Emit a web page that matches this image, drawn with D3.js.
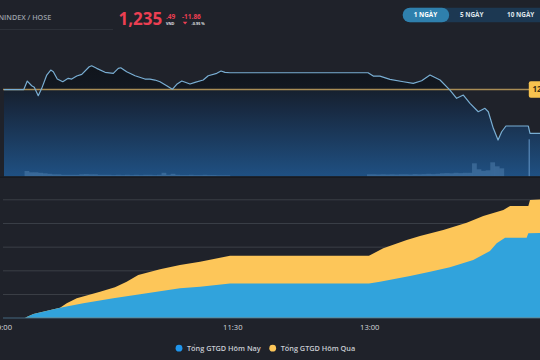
<!DOCTYPE html>
<html><head><meta charset="utf-8">
<script src="https://cdn.jsdelivr.net/npm/d3@7"></script>
<style>
html,body{margin:0;padding:0;background:#1f222a;overflow:hidden}
svg{display:block}
text{font-family:"Open Sans","Noto Sans",sans-serif}
</style></head><body>
<script>
// ---- data (times in minutes after 09:00) ----
const refPrice = 1247.35;
const lastPrice = [1235, 49];
const change = "-11.86", changePct = "-0.95 %";
const periods = ["1 NGÀY", "5 NGÀY", "10 NGÀY"];
const timeTicks = [0, 150, 240];
const timeLabels = ["9:00", "11:30", "13:00"];
const gridTicks = [5000, 10000, 15000, 20000, 25000];
const seriesNames = ["Tổng GTGD Hôm Nay", "Tổng GTGD Hôm Qua"];

const priceTime = [0,13,15.3,18.2,19.9,22.5,24.8,28.1,30.7,32.4,35.0,38.6,42.2,44.5,47.8,51.1,56.0,57.6,60.9,66.4,71.8,75.1,76.7,80.6,86.1,92.6,95.9,99.2,102.5,106.9,110.6,113.5,116.8,122.2,125.5,130.9,134.2,139.8,142.6,145.2,148.5,239.2,242.6,247.0,253.6,262.4,268.9,274.4,279.9,286.5,293.0,297.4,301.8,306.2,311.6,316.0,318.2,321.5,324.6,327.0,329.8,344.5,345.6,352.2];
const priceValue = [1247.35,1247.35,1249.65,1248.38,1247.95,1245.67,1247.67,1251.28,1252.63,1252.17,1250.19,1249.46,1250.38,1250.19,1251.00,1251.47,1253.52,1253.79,1253.09,1252.01,1251.74,1253.09,1253.25,1252.17,1251.09,1250.19,1250.19,1249.92,1249.46,1248.38,1247.40,1248.76,1249.65,1248.84,1249.30,1249.92,1251.09,1251.74,1252.36,1252.01,1251.90,1251.90,1251.00,1251.00,1250.11,1249.46,1249.03,1249.73,1251.28,1249.92,1247.21,1244.97,1245.86,1243.61,1241.34,1242.26,1241.34,1236.84,1233.67,1235.92,1237.47,1237.47,1235.49,1235.49];

const volMorningStart = 15, volAfternoonStart = 240, volStep = 3;
const volMorning = [5.3,4,4,3.5,3,2.5,2,2,1.5,1.5,1.5,1.5,2,2.2,2,2,1.5,1.5,1.5,1.2,1.5,1.2,1.5,1.2,1.5,1.2,1.5,1.5,1.2,1.5,3.5,1.5,2.5,1.5,1.2,1.2,1.5,1.2,1.2,1.5,1.2,1.2,1,1,1];
const volAfternoon = [2,2,1.8,2,1.8,2,1.8,2,2,1.8,2.2,2,2.2,2.5,2.2,2.5,3,3.2,3,3.5,3.2,3.5,3.5,13,7,5.5,6,14,10,8];
const volATC = {t: 345.1, v: 37};

const todayTime = [0,13.8,19.3,36.8,52.1,71.8,89.4,115.6,128.8,148.5,239.8,247.0,266.8,279.9,293.0,308.3,319.3,323.7,329.2,343.4,344.5,352.2];
const todayValue = [0,0,781,2111,3041,4096,4941,6208,6546,7230,7230,7601,8805,9713,10642,12183,14084,15709,16892,16892,17821,17900];
const yestTime = [0,13.8,19.3,36.8,41.2,47.8,63.1,72.9,80.6,88.2,102.5,115.6,128.8,148.5,239.8,249.2,264.6,273.3,288.6,304.0,314.9,328.1,332.5,344.5,345.6,352.2];
const yestValue = [0,0,781,2111,3041,4096,5490,6419,7601,9016,10220,11127,11824,13091,13091,14654,16406,17250,18517,20059,21473,22740,23585,23585,24852,24958];

// ---- setup ----
const W = 540, H = 360;
const svg = d3.select("body").append("svg").attr("width", W).attr("height", H);
const defs = svg.append("defs");
defs.append("clipPath").attr("id","clipTop").append("rect").attr("x",3).attr("y",40).attr("width",537).attr("height",136.5);
defs.append("clipPath").attr("id","clipBot").append("rect").attr("x",3).attr("y",180).attr("width",537).attr("height",138);

const x = d3.scaleLinear().domain([0, 360]).range([4, 4 + 360 * 1.522]);
const yP = d3.scaleLinear().domain([1230, 1257]).range([153.6, 53.9]);
const yV = d3.scaleLinear().domain([0, 40]).range([176.3, 136.3]);
const yT = d3.scaleLinear().domain([0, 25000]).range([317.7, 199.3]);

// ---- header ----
svg.append("text").attr("x", -6).attr("y", 19.5).attr("fill", "#9aa0a9").attr("font-size", 7.2).attr("font-weight", 600).text("VNINDEX / HOSE");
svg.append("line").attr("x1", 0).attr("x2", 113).attr("y1", 29.5).attr("y2", 29.5).attr("stroke", "#2d3139").attr("stroke-width", 1);
const red = "#ec3f52";
svg.append("text").attr("x", 118.5).attr("y", 24.5).attr("fill", red).attr("font-size", 17).attr("font-weight", 700).text(d3.format(",")(lastPrice[0]));
svg.append("text").attr("x", 166).attr("y", 18.5).attr("fill", red).attr("font-size", 6.5).attr("font-weight", 700).text("." + lastPrice[1]);
svg.append("text").attr("x", 166).attr("y", 24.5).attr("fill", "#e0e3e8").attr("font-size", 3.8).attr("font-weight", 700).text("VND");
svg.append("text").attr("x", 182).attr("y", 18.5).attr("fill", red).attr("font-size", 6.5).attr("font-weight", 700).text(change);
svg.append("path").attr("d", "M182.8,21.8 L187.4,21.8 L185.1,24.4 Z").attr("fill", red);
svg.append("text").attr("x", 191.5).attr("y", 24.5).attr("fill", "#e0e3e8").attr("font-size", 3.8).attr("font-weight", 700).text(changePct);

// period buttons
svg.append("rect").attr("x", 402.7).attr("y", 7.7).attr("width", 150).attr("height", 14.6).attr("rx", 7.3).attr("fill", "#1c3852");
svg.append("rect").attr("x", 402.7).attr("y", 7.7).attr("width", 46.5).attr("height", 14.6).attr("rx", 7.3).attr("fill", "#2f80ad");
svg.selectAll("text.btn").data(periods).join("text").attr("class", "btn")
  .attr("x", (d, i) => [425.5, 471.7, 520.7][i]).attr("y", 17.4)
  .attr("text-anchor", "middle").attr("font-size", 6.4).attr("font-weight", 700)
  .attr("fill", (d, i) => i === 0 ? "#ffffff" : "#dfe5ea").text(d => d);

// ---- upper price chart ----
const grad = defs.append("linearGradient").attr("id", "pg").attr("gradientUnits", "userSpaceOnUse")
  .attr("x1", 0).attr("x2", 0).attr("y1", 55).attr("y2", 176);
const refOff = (yP(refPrice) - 55) / (176 - 55);
[[0, "#0f1319"], [refOff - 0.002, "#121821"], [refOff + 0.002, "#16202e"], [0.45, "#182a42"], [1, "#1f5082"]]
  .forEach(s => grad.append("stop").attr("offset", s[0]).attr("stop-color", s[1]));

const gTop = svg.append("g").attr("clip-path", "url(#clipTop)");
const pts = priceTime.map((t, i) => ({t, v: priceValue[i]}));
gTop.append("path").datum(pts).attr("fill", "url(#pg)")
  .attr("d", d3.area().x(d => x(d.t)).y0(176.5).y1(d => yP(d.v)));

// volume bars
const vols = volMorning.map((v, i) => ({t: volMorningStart + i * volStep, v}))
  .concat(volAfternoon.map((v, i) => ({t: volAfternoonStart + i * volStep, v})));
const bw = x(volStep) - x(0);
gTop.selectAll("rect.vol").data(vols).join("rect").attr("class", "vol")
  .attr("x", d => x(d.t) - bw / 2).attr("width", bw + 0.2)
  .attr("y", d => yV(d.v)).attr("height", d => yV(0) - yV(d.v))
  .attr("fill", "#5282b0").attr("opacity", 0.5);
gTop.append("rect").attr("x", x(volATC.t) - 0.7).attr("width", 1.4)
  .attr("y", yV(volATC.v)).attr("height", yV(0) - yV(volATC.v)).attr("fill", "#5d8fbf").attr("opacity", 0.8);

// reference line
gTop.append("line").attr("x1", 3).attr("x2", 540).attr("y1", yP(refPrice)).attr("y2", yP(refPrice))
  .attr("stroke", "#a98d55").attr("stroke-width", 1.6);
// price line
gTop.append("path").datum(pts).attr("fill", "none").attr("stroke", "#79aed3").attr("stroke-width", 1.2)
  .attr("stroke-linejoin", "round")
  .attr("d", d3.line().x(d => x(d.t)).y(d => yP(d.v)));
// ref label
svg.append("rect").attr("x", 528.8).attr("y", yP(refPrice) - 8.3).attr("width", 40).attr("height", 16.6).attr("rx", 2).attr("fill", "#f7c34f");
svg.append("text").attr("x", 532.5).attr("y", yP(refPrice) + 2.8).attr("font-size", 8).attr("font-weight", 700).attr("fill", "#3a2f14").text(d3.format(".2f")(refPrice));
svg.append("line").attr("x1", 0).attr("x2", 540).attr("y1", 177.2).attr("y2", 177.2).attr("stroke", "#171a20").attr("stroke-width", 1.5);

// ---- lower cumulative value chart ----
svg.append("g").attr("transform", "translate(3,0)")
  .call(d3.axisLeft(yT).tickValues(gridTicks).tickSize(-537).tickFormat(""))
  .call(g => g.select(".domain").remove())
  .call(g => g.selectAll("line").attr("stroke", "#3b3f47").attr("stroke-width", 1));

const gBot = svg.append("g").attr("clip-path", "url(#clipBot)");
const yestPts = yestTime.map((t, i) => ({t, v: yestValue[i]}));
const todayPts = todayTime.map((t, i) => ({t, v: todayValue[i]}));
const areaT = d3.area().x(d => x(d.t)).y0(yT(0)).y1(d => yT(d.v));
gBot.append("path").datum(yestPts).attr("fill", "#fdc659").attr("d", areaT);
gBot.append("path").datum(todayPts).attr("fill", "#31a3dc").attr("d", areaT);
svg.append("line").attr("x1", 3).attr("x2", 540).attr("y1", yT(0) + 0.3).attr("y2", yT(0) + 0.3).attr("stroke", "#4f7895").attr("stroke-width", 0.8);

svg.append("g").attr("transform", `translate(0,${yT(0)})`)
  .call(d3.axisBottom(x).tickValues(timeTicks).tickSize(0).tickPadding(7).tickFormat((d, i) => timeLabels[i]))
  .call(g => g.select(".domain").remove())
  .call(g => g.selectAll("text").attr("fill", "#d6d8dc").attr("font-size", 7.6).attr("font-family", "Liberation Sans, Arial, sans-serif"));

// legend
const legColors = ["#1f95ec", "#fdc659"];
const legX = [179, 272.7];
seriesNames.forEach((n, i) => {
  svg.append("circle").attr("cx", legX[i]).attr("cy", 348.2).attr("r", 3.4).attr("fill", legColors[i]);
  svg.append("text").attr("x", legX[i] + 8).attr("y", 350.8).attr("font-size", 7.3).attr("font-weight", 600).attr("fill", "#c9cdd3").text(n);
});
</script>
</body></html>
